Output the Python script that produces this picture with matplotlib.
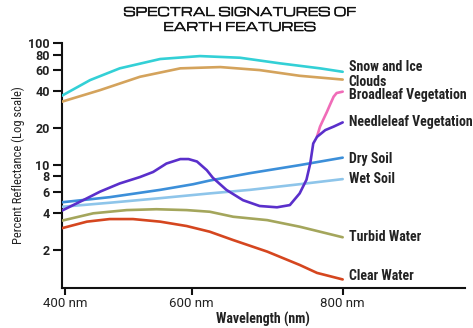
import numpy as np
import matplotlib
matplotlib.use("Agg")
import matplotlib.pyplot as plt
import matplotlib.patheffects as pe
from matplotlib.ticker import FixedLocator, FixedFormatter

# 各类地物的反射光谱 (波长 nm, 反射率 %)
snow_nm = [394, 439, 486, 550, 611, 664, 717, 770, 800]
snow_pct = [36.7, 49.4, 61.7, 73.6, 77.8, 75.4, 67.8, 61.7, 57.8]

clouds_nm = [394, 455, 518, 582, 638, 690, 743, 800]
clouds_pct = [32.8, 40.9, 52.6, 61.7, 63.2, 59.7, 53.6, 49.9]

broadleaf_nm = [766, 770, 774, 779, 783, 788, 792, 800]
broadleaf_pct = [17.0, 20.5, 23.2, 27.0, 30.8, 36.1, 38.7, 39.7]

needleleaf_nm = [394, 423, 455, 486, 518, 539, 560, 582, 595, 607, 620, 628,
                 646, 668, 690, 713, 730, 743, 752, 757, 761, 766, 777, 788, 800]
needleleaf_pct = [4.18, 4.95, 6.0, 7.0, 7.9, 8.7, 10.2, 11.1, 11.1, 10.6, 9.0, 7.8,
                  6.2, 5.1, 4.57, 4.46, 4.65, 5.8, 7.5, 10.2, 14.9, 16.9, 19.2, 20.5, 22.2]

dry_soil_nm = [394, 470, 550, 602, 624, 677, 743, 800]
dry_soil_pct = [4.9, 5.4, 6.2, 6.9, 7.4, 8.5, 9.9, 11.4]

wet_soil_nm = [394, 470, 550, 624, 677, 743, 800]
wet_soil_pct = [4.5, 4.86, 5.3, 5.8, 6.2, 6.9, 7.6]

turbid_nm = [394, 444, 497, 544, 592, 624, 655, 700, 743, 800]
turbid_pct = [3.46, 3.98, 4.23, 4.3, 4.23, 4.1, 3.73, 3.5, 3.09, 2.53]

clear_nm = [394, 434, 470, 507, 550, 592, 624, 655, 700, 743, 766, 800]
clear_pct = [3.0, 3.4, 3.57, 3.57, 3.4, 3.13, 2.81, 2.40, 1.93, 1.50, 1.29, 1.14]

y_ticks = [100, 80, 60, 40, 20, 10, 8, 6, 4, 2]
y_tick_labels = ["100", "80", "60", "40", "20", "10", "8", "6", "4", "2"]
x_ticks = [400, 600, 800]
x_tick_labels = ["400 nm", "600 nm", "800 nm"]

series = [
    ("Snow and Ice", snow_nm, snow_pct, "#33D0D6", 4.4),
    ("Clouds", clouds_nm, clouds_pct, "#D4A35C", -2.8),
    ("Broadleaf Vegetation", broadleaf_nm, broadleaf_pct, "#F06CB8", -3.5),
    ("Needleleaf Vegetation", needleleaf_nm, needleleaf_pct, "#5A2FCB", 0.5),
    ("Dry Soil", dry_soil_nm, dry_soil_pct, "#3C8FD9", -1.0),
    ("Wet Soil", wet_soil_nm, wet_soil_pct, "#8EC5EA", 0.3),
    ("Turbid Water", turbid_nm, turbid_pct, "#A4A65C", 0.5),
    ("Clear Water", clear_nm, clear_pct, "#D5461F", 3.3),
]

NARROW = ["Roboto Condensed", "DejaVu Sans"]
PLAIN = ["Roboto", "DejaVu Sans"]
WIDE = ["Michroma", "DejaVu Sans"]
INK = "#222222"


# 横轴在 600 nm 之后被拉长
def wl_forward(x):
    x = np.asarray(x, dtype=float)
    return np.where(x < 600, (x - 600) * 126.2 / 200, (x - 600) * 151.0 / 200)


def wl_inverse(u):
    u = np.asarray(u, dtype=float)
    return np.where(u < 0, 600 + u * 200 / 126.2, 600 + u * 200 / 151.0)


fig = plt.figure(figsize=(4.73, 3.28), dpi=100)
ax = fig.add_axes([0.1304, 0.1210, 0.8527, 0.7485])
ax.set_xscale("function", functions=(wl_forward, wl_inverse))
ax.set_yscale("log")
ax.set_xlim(394, 962)
ax.set_ylim(0.964, 100)

# 针叶曲线画在阔叶分支之上
for i, (name, xs, ys, color, dy) in enumerate(series):
    ax.plot(xs, ys, color=color, lw=1.9, solid_capstyle="round",
            zorder=4 if i == 3 else 3)
    ax.annotate(name, xy=(xs[-1], ys[-1]), xytext=(4.3, dy * 0.72),
                textcoords="offset points", va="center", ha="left",
                fontsize=10, fontweight="bold", family=NARROW, color=INK)

for side in ["top", "right"]:
    ax.spines[side].set_visible(False)
for side in ["left", "bottom"]:
    ax.spines[side].set_linewidth(1.5)
    ax.spines[side].set_color("#111111")

ax.yaxis.set_major_locator(FixedLocator(y_ticks))
ax.yaxis.set_major_formatter(FixedFormatter(y_tick_labels))
ax.yaxis.set_minor_locator(FixedLocator([]))
ax.xaxis.set_major_locator(FixedLocator(x_ticks))
ax.xaxis.set_major_formatter(FixedFormatter(x_tick_labels))
ax.xaxis.set_minor_locator(FixedLocator([]))
ax.tick_params(axis="y", length=6.5, width=1.5, pad=2, labelsize=9, color="#111111")
ax.tick_params(axis="x", length=5, width=1.5, pad=1.5, labelsize=9.5, color="#111111")
for lbl in ax.get_yticklabels():
    lbl.set_family(PLAIN)
    lbl.set_fontweight("bold")
    lbl.set_color(INK)
for lbl in ax.get_xticklabels():
    lbl.set_family(PLAIN)
    lbl.set_color(INK)

ax.set_ylabel("Percent Reflectance (Log scale)", family=NARROW, fontsize=9,
              color=INK, labelpad=2)
ax.set_xlabel("Wavelength (nm)", family=NARROW, fontsize=10, fontweight="bold",
              color=INK, labelpad=1.5)

# 标题用宽体字，描边稍加粗
title_lines = ["SPECTRAL SIGNATURES OF", "EARTH FEATURES"]
for k, line in enumerate(title_lines):
    fig.text(0.506, 1 - (12.5 + 15 * k) / 328, line, ha="center", va="center",
             fontsize=8.5, family=WIDE, color="#111111",
             path_effects=[pe.withStroke(linewidth=0.35, foreground="#111111")])

fig.savefig("out.png", dpi=100)
